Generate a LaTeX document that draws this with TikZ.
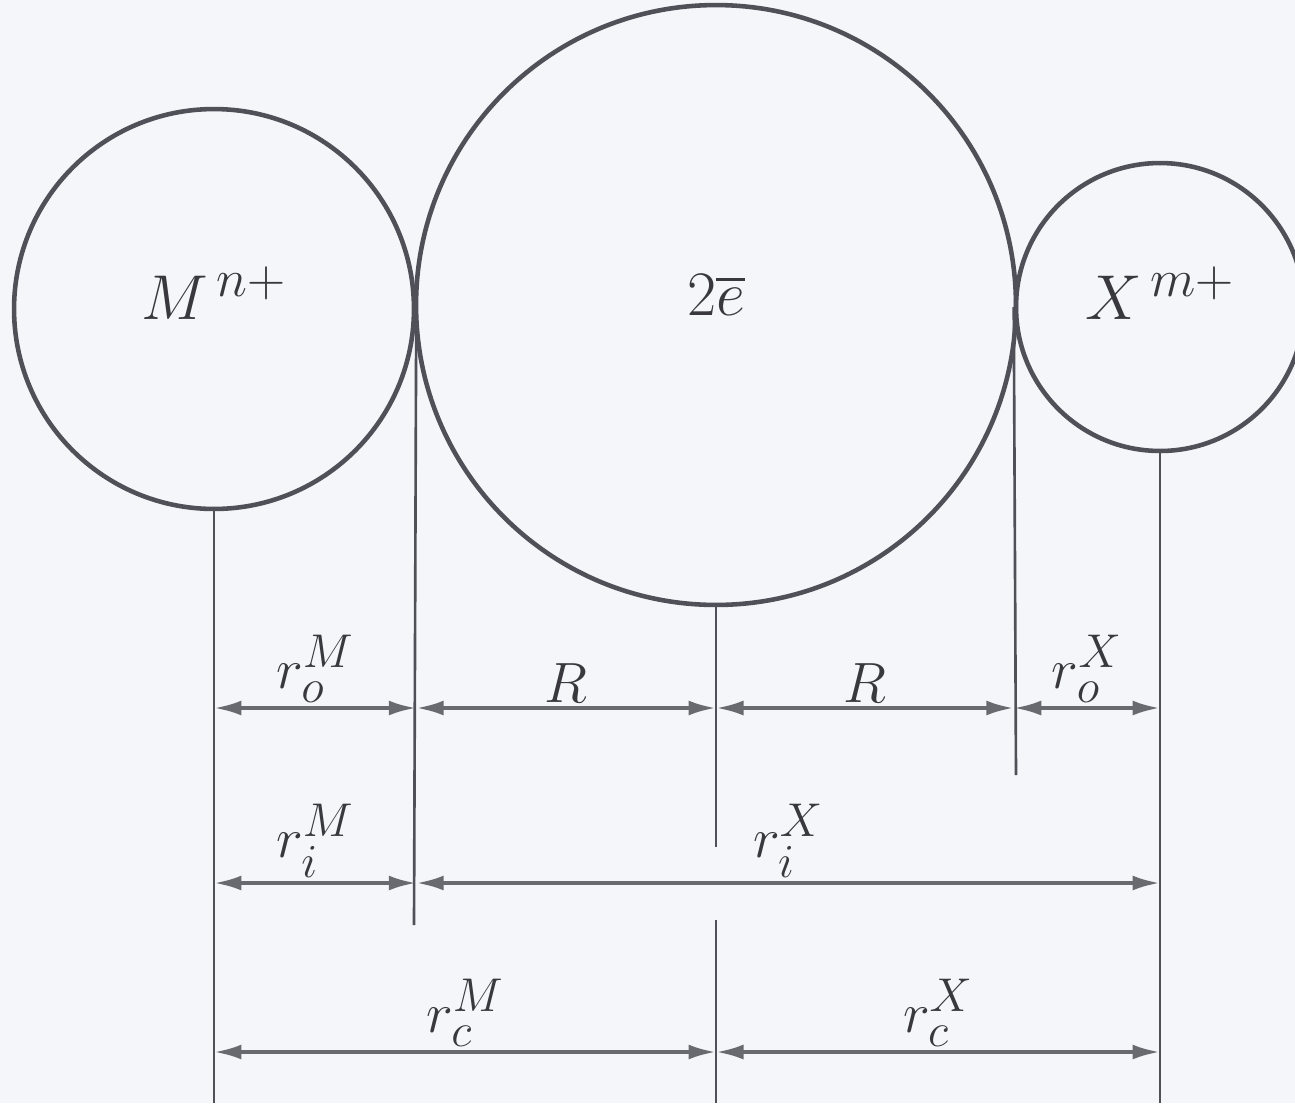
\documentclass[tikz,border=0pt]{standalone}
\usepackage{amsmath}
\usepackage{xcolor}
\usepackage{tikz}
\usetikzlibrary{arrows.meta,positioning,calc}

\definecolor{paper}{RGB}{245,246,250}
\definecolor{inkgray}{RGB}{80,80,88}
\definecolor{arrgray}{RGB}{105,105,112}

\begin{document}
\begin{tikzpicture}[
  x=0.02cm, y=-0.02cm,
  ion/.style = {circle, draw=inkgray, line width=2.6pt, inner sep=0pt},
  ionlbl/.style = {font=\Huge, scale=1.45, text=inkgray!70!black},
  dimlbl/.style = {font=\Huge, scale=1.3, text=inkgray!70!black,
    above, inner sep=1.5pt},
  vln/.style = {draw=inkgray, line width=1.5pt},
  dim/.style = {{Latex[length=5.5mm,width=3mm]}-{Latex[length=5.5mm,width=3mm]},
    draw=arrgray, line width=2.2pt},
]
\fill[paper] (0,0) rectangle (1295,1103);
\useasboundingbox (0,0) rectangle (1295,1103);

% the three spheres
\node[ion, minimum size=8cm] (M) at (214,309) {};
\node[ion, minimum size=12cm] (E) at (716,305) {};
\node[ion, minimum size=5.76cm] (X) at (1160,307) {};
\node[ionlbl] (Mlbl) at (214,293) {$M^{\,n+}$};
\node[ionlbl] (Elbl) at (716,295) {$2\overline{e}$};
\node[ionlbl] (Xlbl) at (1160,293) {$X^{\,m+}$};

% rows of the dimension arrows
\coordinate (row1) at (0,708);
\coordinate (row2) at (0,883);
\coordinate (row3) at (0,1052);

% ends of the extension lines
\coordinate (bM) at (214,1103);
\coordinate (bMe) at (414,925);
\coordinate (bE1) at (716,847);
\coordinate (tE2) at (716,920);
\coordinate (bE2) at (716,1103);
\coordinate (bXw) at (1016,775);
\coordinate (bX) at (1160,1103);

\draw[vln] (M.south) -- (bM);
\draw[vln] (M.east) -- (bMe);
\draw[vln] (E.south) -- (bE1);
\draw[vln] (tE2) -- (bE2);
\draw[vln] (X.west) -- (bXw);
\draw[vln] (X.south) -- (bX);

% first row
\draw[dim] (M.south |- row1) -- (M.east |- row1)
  node[dimlbl, midway] {$r_o^M$};
\draw[dim] (M.east |- row1) -- (E.south |- row1)
  node[dimlbl, midway] {$R$};
\draw[dim] (E.south |- row1) -- (X.west |- row1)
  node[dimlbl, midway] {$R$};
\draw[dim] (X.west |- row1) -- (X.south |- row1)
  node[dimlbl, midway] {$r_o^X$};

% second row
\draw[dim] (M.south |- row2) -- (M.east |- row2)
  node[dimlbl, midway] {$r_i^M$};
\draw[dim] (M.east |- row2) -- (X.south |- row2)
  node[dimlbl, midway] {$r_i^X$};

% third row
\draw[dim] (M.south |- row3) -- (E.south |- row3)
  node[dimlbl, midway] {$r_c^M$};
\draw[dim] (E.south |- row3) -- (X.south |- row3)
  node[dimlbl, midway] {$r_c^X$};
\end{tikzpicture}
\end{document}
